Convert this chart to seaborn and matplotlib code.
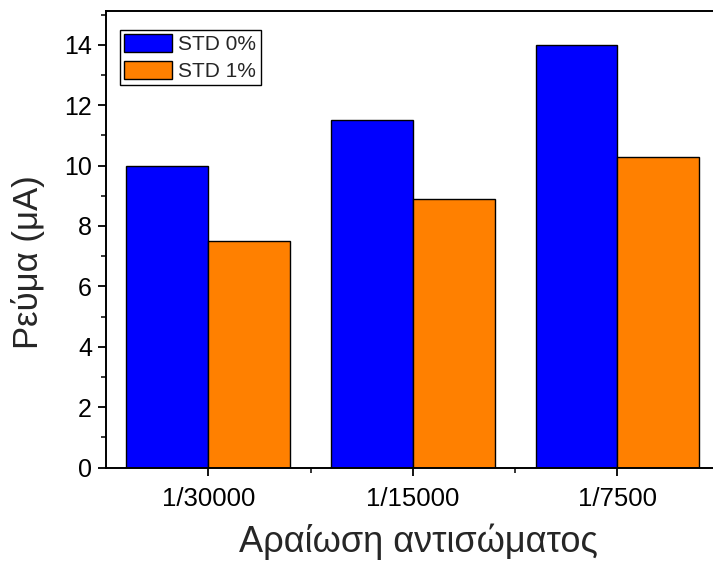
import matplotlib
matplotlib.use("Agg")
import matplotlib.pyplot as plt
from matplotlib.ticker import MultipleLocator, FixedLocator
import seaborn as sns
import pandas as pd

# Antibody dilution groups and measured current (μA)
dilutions = ["1/30000", "1/15000", "1/7500"]
series_names = ["STD 0%", "STD 1%"]
std0_current = [10.0, 11.5, 14.0]
std1_current = [7.5, 8.9, 10.3]
series_colors = ["#0000FF", "#FF8000"]

df = pd.DataFrame({
    "dilution": dilutions * 2,
    "series": [series_names[0]] * 3 + [series_names[1]] * 3,
    "current": std0_current + std1_current,
})

sns.set_theme(style="ticks")
plt.rcParams["font.family"] = ["Liberation Sans", "DejaVu Sans"]

fig = plt.figure(figsize=(7.13, 5.65), dpi=100)
ax = fig.add_axes([106 / 713, 97.5 / 565, 1 - 106 / 713, 456.5 / 565])

sns.barplot(data=df, x="dilution", y="current", hue="series",
            palette=series_colors, width=0.8, edgecolor="black",
            linewidth=1.0, ax=ax, saturation=1.0)

ax.set_xlim(-0.5, 2.467)
ax.set_ylim(0, 15.12)
ax.yaxis.set_major_locator(MultipleLocator(2))
ax.yaxis.set_minor_locator(MultipleLocator(1))
ax.xaxis.set_minor_locator(FixedLocator([0.5, 1.5]))

ax.spines["right"].set_visible(False)
for side in ("left", "bottom", "top"):
    ax.spines[side].set_linewidth(1.4)
    ax.spines[side].set_color("black")

ax.tick_params(axis="both", which="major", direction="out", length=6,
               width=1.3, colors="black", pad=4)
ax.tick_params(axis="y", which="major", labelsize=18)
ax.tick_params(axis="x", which="major", labelsize=18.5, pad=8)
ax.tick_params(axis="both", which="minor", direction="out", length=3.5,
               width=1.3)

ax.set_xlabel("Αραίωση αντισώματος", fontsize=26, labelpad=9)
ax.xaxis.label.set_x(0.515)
ax.set_ylabel("Ρεύμα (μΑ)", fontsize=25)
ax.yaxis.set_label_coords(-0.1005, 0.45)

handles, labels = ax.get_legend_handles_labels()
leg = ax.legend(handles, labels, loc="upper left",
                bbox_to_anchor=(120 / 713, 1 - 30 / 565),
                bbox_transform=fig.transFigure, borderaxespad=0,
                fontsize=15, frameon=True, fancybox=False,
                edgecolor="black", framealpha=1, handlelength=2.3,
                handleheight=0.95, handletextpad=0.3, labelspacing=0.3,
                borderpad=0.2, title=None)
leg.get_frame().set_linewidth(1.0)

fig.savefig("out.png", dpi=100)
